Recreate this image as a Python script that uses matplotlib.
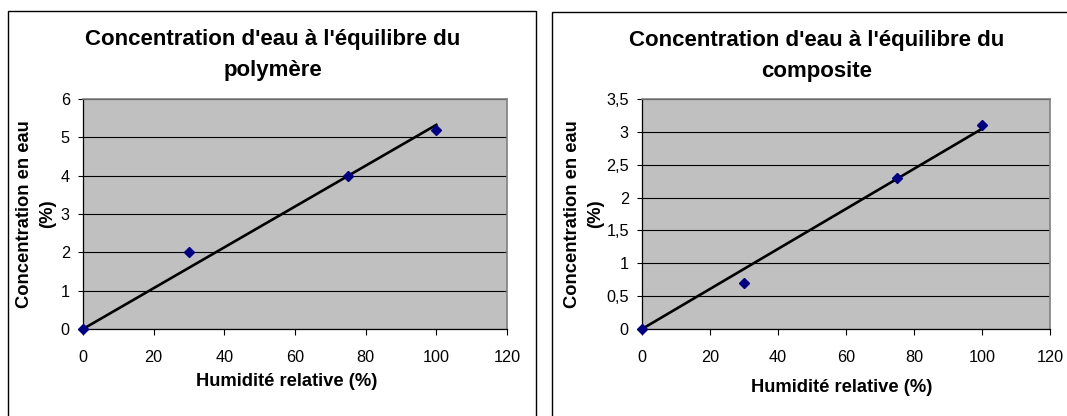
import matplotlib.pyplot as plt
import matplotlib.patches as patches
import numpy as np

plt.rcParams['font.family'] = ['Liberation Sans', 'DejaVu Sans']

# measured data
humidite = np.array([0, 30, 75, 100])
conc_polymere = np.array([0, 2.0, 4.0, 5.2])
conc_composite = np.array([0, 0.7, 2.3, 3.1])

titles = ["Concentration d'eau à l'équilibre du\npolymère",
          "Concentration d'eau à l'équilibre du\ncomposite"]
xlabel = "Humidité relative (%)"
ylabel = "Concentration en eau\n(%)"

x_ticks = [0, 20, 40, 60, 80, 100, 120]
y_ticks_poly = [0, 1, 2, 3, 4, 5, 6]
y_ticks_comp = [0, 0.5, 1, 1.5, 2, 2.5, 3, 3.5]

W, H = 1067, 416
fig = plt.figure(figsize=(W / 100, H / 100), dpi=100)


def fx(px):
    return px / W


def fy(py):
    return 1 - py / H


def panel(box, plot, y, yticks, title_pos, xlab_pos, ylab_x):
    # chart border (runs off the bottom / right of the picture)
    x0, y0, x1 = box
    rect = patches.Rectangle((fx(x0), -0.2), fx(x1) - fx(x0), fy(y0) + 0.2,
                             transform=fig.transFigure, fill=False,
                             edgecolor='black', lw=1.0, clip_on=False)
    fig.patches.append(rect)

    l, t, r, b = plot
    ax = fig.add_axes([fx(l), fy(b), fx(r) - fx(l), fy(t) - fy(b)])
    ax.set_facecolor('#c0c0c0')
    ax.set_xlim(0, 120)
    ax.set_ylim(yticks[0], yticks[-1])
    ax.set_xticks(x_ticks)
    ax.set_yticks(yticks)
    ax.set_yticklabels([('%g' % v).replace('.', ',') for v in yticks])
    ax.yaxis.grid(True, color='black', lw=0.8)
    ax.set_axisbelow(True)
    for s in ['top', 'right']:
        ax.spines[s].set_color('#808080')
        ax.spines[s].set_linewidth(1.2)
    for s in ['left', 'bottom']:
        ax.spines[s].set_color('black')
        ax.spines[s].set_linewidth(0.9)
    ax.tick_params(axis='y', direction='out', length=3.5, width=0.8,
                   pad=6, labelsize=11.7)
    ax.tick_params(axis='x', direction='out', length=4, width=0.8,
                   pad=11, labelsize=11.7)

    # linear trendline through the origin
    slope = np.sum(humidite * y) / np.sum(humidite ** 2)
    xs = np.array([0, humidite.max()])
    ax.plot(xs, slope * xs, color='black', lw=1.9, zorder=3)
    ax.plot(humidite, y, linestyle='none', marker='D', markersize=5.5,
            color='#000080', zorder=4, clip_on=False)

    fig.text(fx(title_pos[0]), fy(title_pos[1]), title_pos[2],
             ha='center', va='center', fontsize=16, fontweight='bold',
             linespacing=1.6)
    fig.text(fx(xlab_pos[0]), fy(xlab_pos[1]), xlabel, ha='center',
             va='center', fontsize=13.2, fontweight='bold')
    fig.text(fx(ylab_x), fy((t + b) / 2), ylabel, ha='center', va='center',
             rotation=90, fontsize=13.2, fontweight='bold', linespacing=1.5)
    return ax


panel((8, 11, 536), (83, 99, 507, 329), conc_polymere, y_ticks_poly,
      (273, 55, titles[0]), (287, 381), 36)
panel((552, 12, 1082), (642, 99, 1050, 329), conc_composite, y_ticks_comp,
      (817, 56, titles[1]), (842, 388), 584)

fig.savefig('out.png', dpi=100)
